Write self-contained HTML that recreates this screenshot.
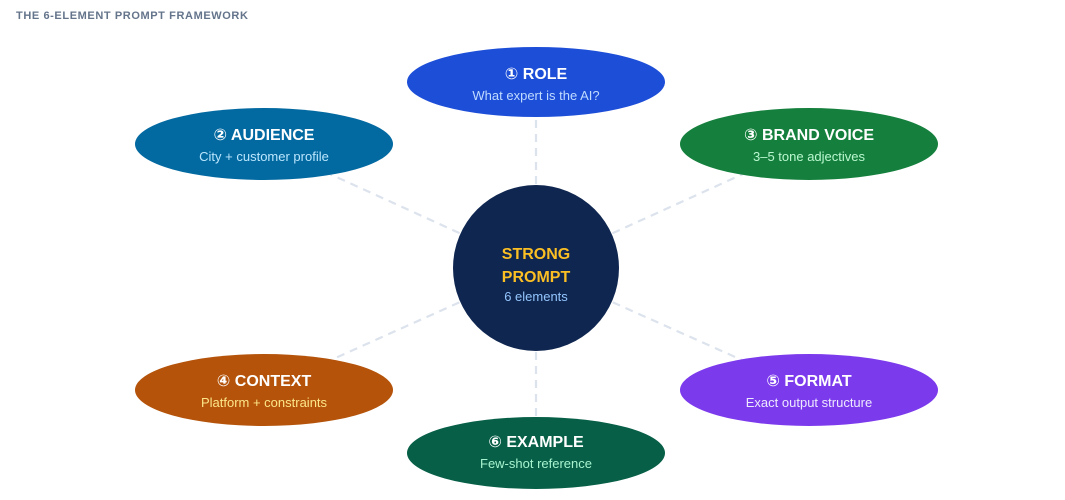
<!DOCTYPE html>
<html><head><meta charset="utf-8"><style>
html,body{margin:0;padding:0;background:#fff;width:1065px;height:500px;overflow:hidden}
svg{display:block}
text{font-family:"Liberation Sans","DejaVu Sans",sans-serif}
</style></head><body>
<svg width="1065" height="500" viewBox="0 0 1065 500">
<text x="16" y="19" font-size="11" font-weight="bold" fill="#64748b" letter-spacing="0.6">THE 6-ELEMENT PROMPT FRAMEWORK</text>
<g stroke="#dce3ed" stroke-width="2.2" stroke-dasharray="8,6" fill="none">
<line x1="536" y1="268" x2="536" y2="82"/>
<line x1="536" y1="268" x2="264" y2="144"/>
<line x1="536" y1="268" x2="809" y2="144"/>
<line x1="536" y1="268" x2="264" y2="390"/>
<line x1="536" y1="268" x2="809" y2="390"/>
<line x1="536" y1="268" x2="536" y2="453"/>
</g>
<ellipse cx="536" cy="82" rx="129" ry="35" fill="#1d4ed8"/>
<ellipse cx="264" cy="144" rx="129" ry="36" fill="#0369a1"/>
<ellipse cx="809" cy="144" rx="129" ry="36" fill="#15803d"/>
<ellipse cx="264" cy="390" rx="129" ry="36" fill="#b45309"/>
<ellipse cx="809" cy="390" rx="129" ry="36" fill="#7c3aed"/>
<ellipse cx="536" cy="453" rx="129" ry="36" fill="#065f46"/>
<circle cx="536" cy="268" r="83" fill="#0f2650"/>
<g text-anchor="middle">
<g font-size="16" font-weight="bold" fill="#fff">
<text x="536" y="79">① ROLE</text>
<text x="264" y="140">② AUDIENCE</text>
<text x="809" y="140">③ BRAND VOICE</text>
<text x="264" y="386">④ CONTEXT</text>
<text x="809" y="386">⑤ FORMAT</text>
<text x="536" y="447">⑥ EXAMPLE</text>
</g>
<g font-size="13">
<text x="536" y="100" fill="#bfdbfe">What expert is the AI?</text>
<text x="264" y="161" fill="#bae6fd">City + customer profile</text>
<text x="809" y="161" fill="#bbf7d0">3–5 tone adjectives</text>
<text x="264" y="407" fill="#fde68a">Platform + constraints</text>
<text x="809" y="407" fill="#ede9fe">Exact output structure</text>
<text x="536" y="468" fill="#a7f3d0">Few-shot reference</text>
</g>
<g font-size="16" font-weight="bold" fill="#fbbf24">
<text x="536" y="259">STRONG</text>
<text x="536" y="282">PROMPT</text>
</g>
<text x="536" y="301" font-size="13" fill="#93c5fd">6 elements</text>
</g>
</svg>
</body></html>
